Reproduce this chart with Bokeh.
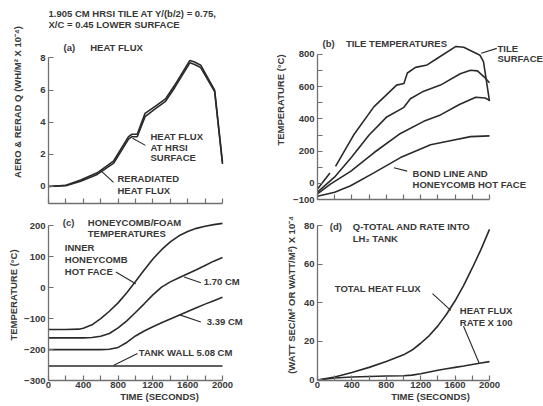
from bokeh.plotting import figure
from bokeh.layouts import row, column
from bokeh.models import FixedTicker
from bokeh.embed import file_html
from bokeh.resources import INLINE
from bokeh.core.properties import value

NAN = float("nan")

# ---------------- data ----------------
# (a) heat flux, W-h/m^2 x 1e-4
a_time = [0, 200, 370, 560, 750, 920, 960, 1020, 1110, 1230, 1345, 1450, 1625, 1680, 1750, 1910, 2000]
a_surface = [0, 0.08, 0.4, 0.85, 1.6, 3.1, 3.25, 3.25, 4.55, 5.0, 5.45, 6.3, 7.85, 7.75, 7.55, 6.0, 1.5]
a_reradiated = [0, 0.05, 0.33, 0.75, 1.45, 2.95, 3.1, 3.1, 4.35, 4.85, 5.3, 6.15, 7.7, 7.6, 7.4, 5.9, 1.4]

# (b) tile temperatures, deg C
b_surface_time = [0, 145, NAN, 210, 420, 655, 920, 1005, 1045, 1140, 1275, 1390, 1610, 1700, 1890, 1930, 2000]
b_surface_temp = [-35, 65, NAN, 105, 300, 475, 610, 620, 685, 720, 735, 775, 850, 845, 795, 755, 510]
b_inner1_time = [0, 200, 400, 600, 800, 1000, 1080, 1220, 1430, 1660, 1780, 1860, 1940, 2000]
b_inner1_temp = [-55, 40, 165, 300, 410, 470, 525, 568, 610, 680, 702, 698, 660, 625]
b_inner2_time = [0, 150, 385, 655, 965, 1235, 1430, 1650, 1840, 1950, 2000]
b_inner2_temp = [-65, -5, 75, 190, 310, 385, 425, 490, 535, 530, 515]
b_bond_time = [0, 200, 385, 655, 965, 1315, 1500, 1780, 2000]
b_bond_temp = [-80, -55, -15, 65, 160, 240, 260, 290, 295]

# (c) honeycomb / foam temperatures, deg C
c_time = [0, 200, 350, 400, 500, 600, 700, 800, 900, 1000, 1100, 1200, 1300, 1400, 1500, 1600, 1700, 1800, 1900, 2000]
c_inner_hot_face = [-135, -135, -134, -131, -120, -100, -76, -49, -16, 20, 57, 93, 123, 148, 168, 182, 192, 199, 204, 208]
c_170cm = [-162, -162, -162, -162, -161, -157, -148, -130, -107, -80, -52, -23, 2, 19, 32, 45, 58, 72, 86, 98]
c_339cm = [-200, -200, -200, -200, -200, -200, -199, -193, -177, -156, -140, -126, -113, -101, -89, -77, -65, -53, -42, -31]
c_wall_time = [0, 2000]
c_tank_wall = [-253, -253]

# (d) Q-total and rate into LH2 tank
d_time = [0, 200, 400, 600, 800, 1000, 1100, 1200, 1300, 1400, 1500, 1600, 1700, 1800, 1900, 2000]
d_total = [0, 1.5, 3.8, 6.5, 9.5, 13, 15.5, 19, 23, 28, 34, 41, 49, 58, 67.5, 78]
d_rate_x100 = [0, 1.0, 1.5, 1.8, 2.0, 2.2, 2.5, 3.2, 4.1, 5.0, 5.8, 6.5, 7.2, 8.0, 8.8, 9.5]

x_ticks_all = [0, 200, 400, 600, 800, 1000, 1200, 1400, 1600, 1800, 2000]
x_ticks_labeled = [0, 400, 800, 1200, 1600, 2000]
x_ticks_minor = [200, 600, 1000, 1400, 1800]
a_yticks = [0, 2, 4, 6, 8]
b_yticks = [-100, 0, 200, 400, 600, 800]
b_yminor = [100, 300, 500, 700]
c_yticks = [-300, -200, -100, 0, 100, 200]
d_yticks = [0, 20, 40, 60, 80]

# ---------------- style ----------------
FONT = "Liberation Sans"
FS = "9.5px"
TXT = "#383838"
LINE = "#2a2a2a"
AX = "#707070"


def make_fig(width, height, x_range, y_range, left, right, top, bottom):
    p = figure(width=width, height=height, x_range=x_range, y_range=y_range,
               output_backend="svg", toolbar_location=None,
               min_border_left=left, min_border_right=right,
               min_border_top=top, min_border_bottom=bottom)
    p.outline_line_color = None
    p.grid.visible = False
    p.background_fill_color = "white"
    p.border_fill_color = "white"
    for ax in p.axis:
        ax.axis_line_color = AX
        ax.axis_line_width = 1.3
        ax.major_tick_line_color = AX
        ax.minor_tick_line_color = AX
        ax.major_tick_line_width = 1.2
        ax.minor_tick_line_width = 1.2
        ax.major_tick_in = 5
        ax.major_tick_out = 0
        ax.minor_tick_in = 5
        ax.minor_tick_out = 0
        ax.major_label_text_font = FONT
        ax.major_label_text_font_style = "bold"
        ax.major_label_text_font_size = FS
        ax.major_label_text_color = TXT
        ax.axis_label_text_font = FONT
        ax.axis_label_text_font_style = "bold"
        ax.axis_label_text_font_size = FS
        ax.axis_label_text_color = TXT
        ax.major_label_standoff = 3
    return p


def add_text(p, xs, ys, texts, align="left"):
    p.text(x=xs, y=ys, text=texts, text_font=value(FONT), text_font_style="bold",
           text_font_size=FS, text_color=TXT, text_align=align, text_baseline="middle")


def add_leaders(p, x0, y0, x1, y1):
    p.segment(x0=x0, y0=y0, x1=x1, y1=y1, line_color=LINE, line_width=1.1)


def unlabeled_time_axis(p):
    # tick marks only (drawn as minor ticks, which carry no labels)
    p.xaxis.ticker = FixedTicker(ticks=[], minor_ticks=x_ticks_all)
    p.xaxis.major_label_standoff = 0
    p.xaxis.bounds = (0, 2000)


def time_axis(p):
    p.xaxis.ticker = FixedTicker(ticks=x_ticks_labeled, minor_ticks=x_ticks_minor)
    p.xaxis.axis_label = "TIME (SECONDS)"
    p.xaxis.major_label_standoff = 1
    p.xaxis.axis_label_standoff = 0
    p.xaxis.bounds = (0, 2000)


# ---------------- (a) ----------------
pa = make_fig(270, 207, (0, 2552), (-1.06, 11.58), 48, 0, 0, 4)
unlabeled_time_axis(pa)
pa.yaxis.ticker = FixedTicker(ticks=a_yticks)
pa.yaxis.bounds = (-1.06, 8)
pa.yaxis.axis_label = "AERO & RERAD Q (WH/M² X 10⁻⁴)"
pa.yaxis.axis_label_standoff = 14
pa.line(a_time, a_surface, line_color=LINE, line_width=1.6)
pa.line(a_time, a_reradiated, line_color=LINE, line_width=1.6)
add_text(pa, [0, 0], [10.77, 10.09],
         ["1.905 CM HRSI TILE AT Y/(b/2) = 0.75,", "X/C = 0.45 LOWER SURFACE"])
add_text(pa, [172, 480], [8.65, 8.65], ["(a)", "HEAT FLUX"])
add_text(pa, [1172, 1172, 1172], [3.1, 2.45, 1.8], ["HEAT FLUX", "AT HRSI", "SURFACE"])
add_text(pa, [793, 793], [0.5, -0.25], ["RERADIATED", "HEAT FLUX"])
add_leaders(pa, [1115, 747], [2.56, 0.25], [966, 598], [3.0, 1.0])

# ---------------- (b) ----------------
pb = make_fig(273, 207, (0, 2628), (-100, 1135), 47, 0, 0, 8)
unlabeled_time_axis(pb)
pb.yaxis.ticker = FixedTicker(ticks=b_yticks, minor_ticks=b_yminor)
pb.yaxis.bounds = (-100, 800)
pb.yaxis.axis_label = "TEMPERATURE (°C)"
pb.yaxis.axis_label_standoff = 4
for tt, vv in [(b_surface_time, b_surface_temp), (b_inner1_time, b_inner1_temp),
               (b_inner2_time, b_inner2_temp), (b_bond_time, b_bond_temp)]:
    pb.line(tt, vv, line_color=LINE, line_width=1.6)
add_text(pb, [58, 330], [868, 868], ["(b)", "TILE TEMPERATURES"])
add_text(pb, [2093, 2093], [838, 776], ["TILE", "SURFACE"])
add_text(pb, [1105, 1105], [62, -6], ["BOND LINE AND", "HONEYCOMB HOT FACE"])
add_leaders(pb, [1904, 888], [808, 97], [2085, 1043], [838, 76])

# ---------------- (c) ----------------
pc = make_fig(270, 198, (0, 2552), (-300, 253), 48, 0, 2, 25)
time_axis(pc)
pc.yaxis.ticker = FixedTicker(ticks=c_yticks)
pc.yaxis.bounds = (-300, 200)
pc.yaxis.axis_label = "TEMPERATURE (°C)"
pc.yaxis.axis_label_standoff = 2
for vv in [c_inner_hot_face, c_170cm, c_339cm]:
    pc.line(c_time, vv, line_color=LINE, line_width=1.6)
pc.line(c_wall_time, c_tank_wall, line_color=LINE, line_width=1.6)
add_text(pc, [164, 452, 452], [210, 210, 177], ["(c)", "HONEYCOMB/FOAM", "TEMPERATURES"])
add_text(pc, [187, 187, 187], [129, 90, 52], ["INNER", "HONEYCOMB", "HOT FACE"])
add_text(pc, [1785], [19], ["1.70 CM"])
add_text(pc, [1820], [-110], ["3.39 CM"])
add_text(pc, [1038], [-210], ["TANK WALL 5.08 CM"])
add_leaders(pc, [774, 1559, 1501, 751], [51, 35, -87, -251],
            [1003, 1751, 1751, 1023], [13, 16, -111, -213])

# ---------------- (d) ----------------
pd_ = make_fig(273, 198, (0, 2628), (-0.3, 88.3), 47, 0, 2, 25)
time_axis(pd_)
pd_.yaxis.ticker = FixedTicker(ticks=d_yticks)
pd_.yaxis.bounds = (-0.3, 80)
pd_.yaxis.axis_label = "(WATT SEC/M² OR WATT/M²) X 10⁻⁴"
pd_.yaxis.axis_label_standoff = 4
pd_.line(d_time, d_total, line_color=LINE, line_width=1.6)
pd_.line(d_time, d_rate_x100, line_color=LINE, line_width=1.6)
add_text(pd_, [143, 410, 410], [79.4, 79.4, 73.2], ["(d)", "Q-TOTAL AND RATE INTO", "LH₂ TANK"])
add_text(pd_, [201], [47.4], ["TOTAL HEAT FLUX"])
add_text(pd_, [1655, 1655], [36, 30], ["HEAT FLUX", "RATE X 100"])
add_leaders(pd_, [1337, 1698], [44.7, 27.8], [1550, 1879], [36, 8.8])

layout = row(column(pa, pc), column(pb, pd_))
open("out.html", "w").write(file_html(layout, INLINE))
